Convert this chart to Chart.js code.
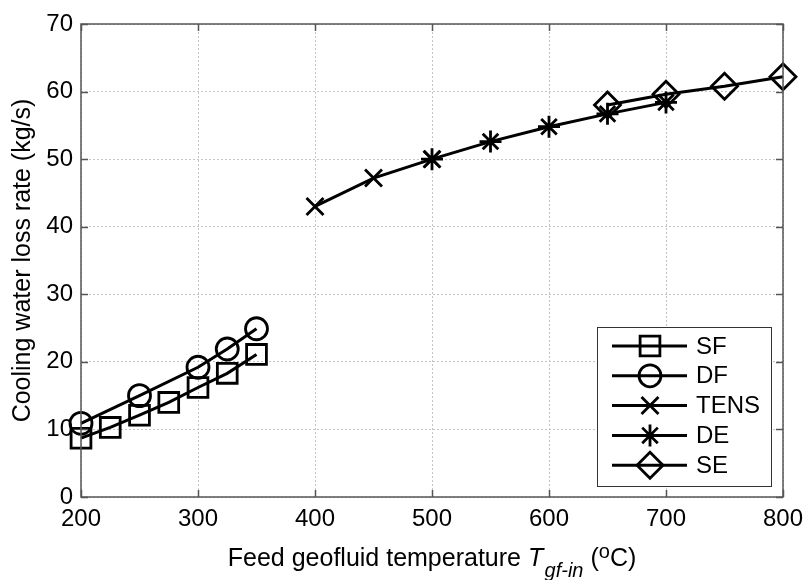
<!DOCTYPE html>
<html>
<head>
<meta charset="utf-8">
<script src="https://cdn.jsdelivr.net/npm/chart.js@4/dist/chart.umd.min.js"></script>
<style>
  html, body { margin: 0; padding: 0; background: #fff; }
  #wrap { width: 804px; height: 580px; }
</style>
</head>
<body>
<div id="wrap"><canvas id="chart" width="804" height="580"></canvas></div>
<script>
// ===== DATA =====
const X_TICKS = [200, 300, 400, 500, 600, 700, 800];
const Y_TICKS = [0, 10, 20, 30, 40, 50, 60, 70];

const sfT   = [200, 225, 250, 275, 300, 325, 350];
const sfW   = [8.7, 10.3, 12.1, 14.0, 16.2, 18.3, 21.1];
const dfT   = [200, 250, 300, 325, 350];
const dfW   = [10.9, 15.0, 19.2, 21.9, 24.9];
const tensT = [400, 450, 500];
const tensW = [43.0, 47.2, 50.0];
const deT   = [500, 550, 600, 650, 700];
const deW   = [50.0, 52.6, 54.8, 56.7, 58.4];
const seT   = [650, 700, 750, 800];
const seW   = [58.0, 59.6, 60.8, 62.2];

const FONT = '"Liberation Sans", Arial, sans-serif';
const INK = '#000';
const FRAME = '#555';

const pts = (xs, ys) => xs.map((x, i) => ({ x, y: ys[i] }));

function series(label, xs, ys, style, radius) {
    return {
        label, data: pts(xs, ys),
        borderColor: INK, borderWidth: 3, tension: 0,
        pointStyle: style, pointRadius: radius, pointHoverRadius: radius,
        pointBorderColor: INK, pointBackgroundColor: 'rgba(0,0,0,0)', pointBorderWidth: 2.8,
        clip: false
    };
}

// ===== PLUGINS =====
// box around the axes, with inward tick marks on all four sides
const framePlugin = {
    id: 'frame',
    afterDatasetsDraw(chart) {
        const { ctx, chartArea: a, scales } = chart;
        ctx.save();
        ctx.strokeStyle = FRAME; ctx.lineWidth = 1.5;
        ctx.strokeRect(a.left, a.top, a.right - a.left, a.bottom - a.top);
        ctx.beginPath();
        X_TICKS.forEach(v => {
            const px = Math.round(scales.x.getPixelForValue(v)) + 0.5;
            ctx.moveTo(px, a.bottom); ctx.lineTo(px, a.bottom - 7);
            ctx.moveTo(px, a.top); ctx.lineTo(px, a.top + 7);
        });
        Y_TICKS.forEach(v => {
            const py = Math.round(scales.y.getPixelForValue(v)) + 0.5;
            ctx.moveTo(a.left, py); ctx.lineTo(a.left + 7, py);
            ctx.moveTo(a.right, py); ctx.lineTo(a.right - 7, py);
        });
        ctx.stroke();
        ctx.restore();
    }
};

// boxed legend, bottom-right inside the plot
const legendPlugin = {
    id: 'boxLegend',
    afterDraw(chart) {
        const { ctx, chartArea: a } = chart;
        const w = 174, h = 159;
        const x0 = a.right - 12 - w, y0 = a.bottom - 11 - h;
        ctx.save();
        ctx.fillStyle = '#fff';
        ctx.fillRect(x0, y0, w, h);
        ctx.strokeStyle = '#333'; ctx.lineWidth = 1;
        ctx.strokeRect(x0 + 0.5, y0 + 0.5, w, h);
        chart.data.datasets.forEach((ds, i) => {
            const y = y0 + 19 + i * 29.8;
            ctx.strokeStyle = INK; ctx.lineWidth = 3;
            ctx.beginPath(); ctx.moveTo(x0 + 15, y); ctx.lineTo(x0 + 90, y); ctx.stroke();
            ctx.lineWidth = ds.pointBorderWidth;
            ctx.fillStyle = 'rgba(0,0,0,0)';
            Chart.helpers.drawPoint(ctx, {
                pointStyle: ds.pointStyle, radius: ds.pointRadius,
                borderWidth: ds.pointBorderWidth, rotation: 0
            }, x0 + 53, y);
            ctx.fillStyle = INK;
            ctx.font = '24px ' + FONT;
            ctx.textBaseline = 'middle'; ctx.textAlign = 'left';
            ctx.fillText(ds.label, x0 + 99, y + 1);
        });
        ctx.restore();
    }
};

// x-axis title with italic T and sub/superscripts
const xTitlePlugin = {
    id: 'xTitle',
    afterDraw(chart) {
        const { ctx, chartArea: a } = chart;
        const parts = [
            { t: 'Feed geofluid temperature ', f: '25px ' + FONT, dy: 0 },
            { t: 'T', f: 'italic 25px ' + FONT, dy: 0 },
            { t: ' ', f: '5px ' + FONT, dy: 0 },
            { t: 'gf-in', f: 'italic 20px ' + FONT, dy: 11 },
            { t: ' (', f: '25px ' + FONT, dy: 0 },
            { t: 'o', f: '20px ' + FONT, dy: -8 },
            { t: 'C)', f: '25px ' + FONT, dy: 0 }
        ];
        ctx.save();
        let total = 0;
        parts.forEach(p => { ctx.font = p.f; p.w = ctx.measureText(p.t).width; total += p.w; });
        let x = (a.left + a.right) / 2 - total / 2;
        const base = 566;
        ctx.fillStyle = INK; ctx.textBaseline = 'alphabetic'; ctx.textAlign = 'left';
        parts.forEach(p => { ctx.font = p.f; ctx.fillText(p.t, x, base + p.dy); x += p.w; });
        ctx.restore();
    }
};

// ===== CHART =====
new Chart(document.getElementById('chart'), {
    type: 'line',
    data: {
        datasets: [
            series('SF', sfT, sfW, 'rect', 14),
            series('DF', dfT, dfW, 'circle', 11),
            series('TENS', tensT, tensW, 'crossRot', 12),
            series('DE', deT, deW, 'star', 11),
            series('SE', seT, seW, 'rectRot', 13)
        ]
    },
    options: {
        responsive: false,
        animation: false,
        layout: { padding: { left: 0, top: 24, right: 21, bottom: 0 } },
        plugins: { legend: { display: false }, tooltip: { enabled: false } },
        scales: {
            x: {
                type: 'linear', min: 200, max: 800,
                afterBuildTicks: s => { s.ticks = X_TICKS.map(v => ({ value: v })); },
                afterFit: s => { s.height = 83; s.paddingLeft = 0; s.paddingRight = 0; },
                grid: { color: '#c4c4c4', lineWidth: 1, drawTicks: false },
                border: { display: false, dash: [2, 2] },
                ticks: { color: INK, font: { family: FONT, size: 24 }, padding: 8, maxRotation: 0 }
            },
            y: {
                min: 0, max: 70,
                afterBuildTicks: s => { s.ticks = Y_TICKS.map(v => ({ value: v })); },
                afterFit: s => { s.width = 81; },
                grid: { color: '#c4c4c4', lineWidth: 1, drawTicks: false },
                border: { display: false, dash: [2, 2] },
                ticks: { color: INK, font: { family: FONT, size: 24 }, padding: 8 },
                title: {
                    display: true, text: 'Cooling water loss rate (kg/s)', color: INK,
                    font: { family: FONT, size: 25 }, padding: { top: 8, bottom: 0 }
                }
            }
        }
    },
    plugins: [framePlugin, legendPlugin, xTitlePlugin]
});
</script>
</body>
</html>
